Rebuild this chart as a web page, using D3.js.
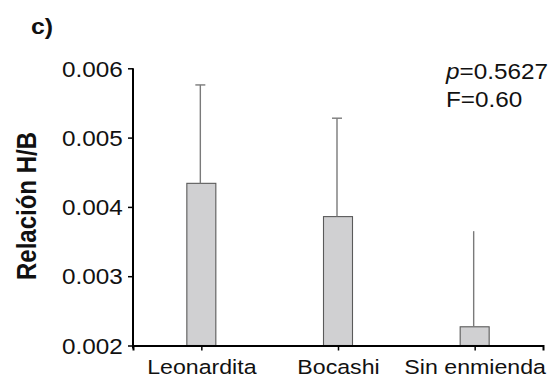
<!DOCTYPE html>
<html>
<head>
<meta charset="utf-8">
<script src="https://cdn.jsdelivr.net/npm/d3@7"></script>
<style>
  html, body { margin: 0; padding: 0; background: #fff; }
  svg { display: block; }
  text { font-family: "Liberation Sans", Arial, Helvetica, sans-serif; fill: #111; }
</style>
</head>
<body>
<script>
// H/B ratio by soil amendment (mean + error)
const categories = ["Leonardita", "Bocashi", "Sin enmienda"];
const means      = [0.00434, 0.00386, 0.00227];
const errTops    = [0.00576, 0.00528, 0.00365];
const errCaps    = [true, true, false];
const yTicks     = [0.002, 0.003, 0.004, 0.005, 0.006];
const yTickLabels = ["0.002", "0.003", "0.004", "0.005", "0.006"];
const statLines  = [["p", "=0.5627"], ["", "F=0.60"]];

const W = 555, H = 383;
const SX = 1.13; // horizontal stretch of the lettering

const svg = d3.select("body").append("svg")
  .attr("width", W).attr("height", H);

const y = d3.scaleLinear().domain([0.002, 0.006]).range([345.5, 68.3]);
const x = d3.scalePoint().domain(categories).range([133, 543]).padding(0.5);
const barW = 29;

// bars
svg.selectAll("rect.bar").data(categories).join("rect")
  .attr("class", "bar")
  .attr("x", d => x(d) - barW / 2)
  .attr("width", barW)
  .attr("y", (d, i) => y(means[i]))
  .attr("height", (d, i) => y(0.002) - y(means[i]))
  .attr("fill", "#d0d0d2")
  .attr("stroke", "#5a5a5a")
  .attr("stroke-width", 1.1);

// error bars
const eb = svg.append("g").attr("stroke", "#7a7a7a").attr("stroke-width", 1.4);
categories.forEach((c, i) => {
  eb.append("line")
    .attr("x1", x(c) - 1).attr("x2", x(c) - 1)
    .attr("y1", y(means[i])).attr("y2", y(errTops[i]));
  if (errCaps[i]) {
    eb.append("line")
      .attr("x1", x(c) - 6).attr("x2", x(c) + 4)
      .attr("y1", y(errTops[i])).attr("y2", y(errTops[i]));
  }
});

// y axis
const yAxis = svg.append("g")
  .attr("transform", "translate(133,0)")
  .call(d3.axisLeft(y).tickValues(yTicks).tickFormat((d, i) => yTickLabels[i])
    .tickSize(5).tickSizeOuter(0));
yAxis.select(".domain").attr("stroke", "#000").attr("stroke-width", 2)
  .attr("d", `M0,${y(0.006)}V${y(0.002) + 3}`);
yAxis.selectAll(".tick line").attr("stroke", "#000").attr("stroke-width", 1.5);
yAxis.selectAll(".tick text")
  .attr("x", -9).attr("dy", "0.36em")
  .attr("transform", `scale(${SX},1)`)
  .style("font-size", "21.5px").style("font-family", "'Liberation Sans', Arial, sans-serif")
  .attr("fill", "#111");

// x axis
const xAxis = svg.append("g")
  .attr("transform", `translate(0,${y(0.002)})`)
  .call(d3.axisBottom(x).tickSize(5).tickSizeOuter(5).tickPadding(9));
xAxis.select(".domain").attr("stroke", "#000").attr("stroke-width", 2);
xAxis.selectAll(".tick line").attr("stroke", "#000").attr("stroke-width", 1.5);
xAxis.selectAll(".tick text")
  .attr("transform", `scale(${SX},1)`)
  .style("font-size", "20.5px").style("font-family", "'Liberation Sans', Arial, sans-serif")
  .attr("fill", "#111");

// y axis title
svg.append("text")
  .attr("transform", `translate(36,206) scale(${SX},1) rotate(-90)`)
  .attr("text-anchor", "middle")
  .style("font-size", "24px").style("font-weight", "bold")
  .text("Relación H/B");

// panel label
svg.append("text")
  .attr("transform", `translate(31,34) scale(${SX},1)`)
  .style("font-size", "22px").style("font-weight", "bold")
  .text("c)");

// statistics
statLines.forEach((ln, i) => {
  const t = svg.append("text")
    .attr("transform", `translate(446,${79 + i * 28}) scale(${SX},1)`)
    .style("font-size", "21.5px");
  if (ln[0]) t.append("tspan").style("font-style", "italic").text(ln[0]);
  t.append("tspan").text(ln[1]);
});
</script>
</body>
</html>
